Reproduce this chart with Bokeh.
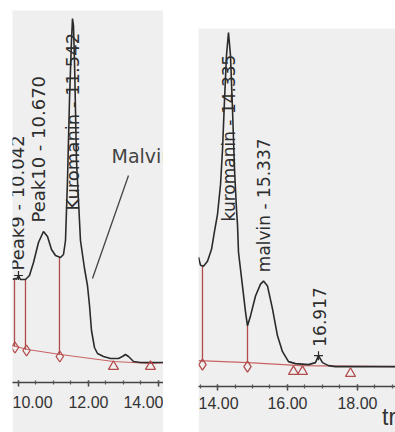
import numpy as np
from bokeh.plotting import figure
from bokeh.layouts import row, column
from bokeh.models import (Range1d, SingleIntervalTicker, PrintfTickFormatter,
                          Label, Spacer)
from bokeh.core.properties import value
from bokeh.embed import file_html
from bokeh.resources import INLINE

# ---------------- data: left chromatogram window ----------------
left_time = [9.829, 9.914, 9.943, 10.0, 10.057, 10.2, 10.314, 10.429, 10.571,
             10.714, 10.829, 10.943, 11.057, 11.2, 11.286, 11.343, 11.4, 11.457,
             11.514, 11.543, 11.571, 11.6, 11.629, 11.657, 11.714, 11.771, 11.886,
             11.971, 12.029, 12.086, 12.171, 12.257, 12.429, 12.629, 12.857, 12.971,
             13.057, 13.143, 13.286, 13.486, 14.143]
left_signal = [1.03, 1.04, 1.03, 1.07, 1.03, 1.03, 1.07, 1.20, 1.40,
               1.51, 1.46, 1.33, 1.27, 1.25, 1.28, 1.42, 2.02, 2.82,
               3.42, 3.64, 3.57, 3.22, 2.72, 2.22, 1.82, 1.42, 1.14,
               0.97, 0.77, 0.52, 0.35, 0.29, 0.26, 0.24, 0.24, 0.26,
               0.28, 0.26, 0.21, 0.20, 0.20]
left_base_time = [9.829, 10.257, 11.2, 12.714, 13.771, 14.143]
left_base_signal = [0.37, 0.33, 0.28, 0.21, 0.19, 0.20]
left_drop_time = [9.886, 10.2, 11.171]
left_drop_low = [0.36, 0.33, 0.28]
left_drop_high = [1.04, 1.03, 1.25]
left_start_time = [9.9, 10.23, 11.18]
left_start_signal = [0.35, 0.32, 0.26]
left_end_time = [12.714, 13.771]
left_end_signal = [0.16, 0.16]
left_apex_time = [10.0]
left_apex_signal = [1.07]
left_peak_names = ["Peak9 - 10.042", "Peak10 - 10.670", "Kuromanin - 11.542"]
left_peak_rt = [10.042, 10.670, 11.542]

# ---------------- data: right chromatogram window ----------------
right_time = [13.457, 13.514, 13.6, 13.714, 13.829, 13.914, 14.0, 14.086, 14.143,
              14.2, 14.257, 14.314, 14.371, 14.429, 14.486, 14.543, 14.571, 14.6,
              14.714, 14.8, 14.857, 14.943, 15.086, 15.229, 15.314, 15.429, 15.571,
              15.714, 15.857, 16.029, 16.229, 16.6, 16.8, 16.886, 17.0, 17.171,
              17.371, 19.086]
right_signal = [1.30, 1.22, 1.21, 1.26, 1.38, 1.56, 1.73, 2.03, 2.38,
                2.88, 3.33, 3.56, 3.33, 2.78, 2.18, 1.78, 1.63, 1.35,
                1.01, 0.75, 0.61, 0.71, 0.91, 1.03, 1.06, 1.01, 0.78,
                0.51, 0.35, 0.25, 0.23, 0.22, 0.24, 0.31, 0.24, 0.21,
                0.20, 0.20]
right_base_time = [13.457, 14.886, 16.371, 19.086]
right_base_signal = [0.26, 0.24, 0.21, 0.20]
right_drop_time = [13.571, 14.857]
right_drop_low = [0.25, 0.24]
right_drop_high = [1.21, 0.61]
right_start_time = [13.571, 14.857]
right_start_signal = [0.22, 0.20]
right_end_time = [16.171, 16.429, 17.8]
right_end_signal = [0.15, 0.15, 0.13]
right_apex_time = [16.886]
right_apex_signal = [0.31]
right_peak_names = ["kuromanin - 14.335", "malvin - 15.337", "16.917"]
right_peak_rt = [14.335, 15.337, 16.917]
axis_title = "tr"

GRAY = "#efefef"
CURVE = "#2b2b2b"
RED = "#b24c4c"
BASE = "#c86464"
TXT = "#2e2e2e"


def make_fig(xr, yr, w, h, bottom):
    p = figure(x_range=Range1d(*xr), y_range=Range1d(*yr), width=w, height=h,
               output_backend="svg", toolbar_location=None, y_axis_location=None,
               min_border_left=0, min_border_right=0, min_border_top=0,
               min_border_bottom=bottom, background_fill_color=GRAY,
               border_fill_color=GRAY, outline_line_color=None)
    p.xgrid.visible = False
    p.ygrid.visible = False
    ax = p.xaxis[0]
    ax.ticker = SingleIntervalTicker(interval=2, num_minor_ticks=4)
    ax.formatter = PrintfTickFormatter(format="%.2f")
    ax.axis_line_color = "#444444"
    ax.axis_line_width = 1.5
    ax.major_tick_line_color = "#444444"
    ax.major_tick_line_width = 1.5
    ax.major_tick_in = 2
    ax.major_tick_out = 4
    ax.minor_tick_line_color = "#555555"
    ax.minor_tick_line_width = 1.2
    ax.minor_tick_in = 2
    ax.minor_tick_out = 2
    ax.major_label_text_font = "Liberation Sans"
    ax.major_label_text_font_size = "16px"
    ax.major_label_text_color = "#333333"
    return p


def draw(p, t, s, bt, bs, dt, dlo, dhi, st, ss, et, es, at, asig):
    p.line(bt, bs, line_color=BASE, line_width=1.2)
    p.segment(x0=dt, y0=dlo, x1=dt, y1=dhi, line_color=RED, line_width=1.3)
    p.line(t, s, line_color=CURVE, line_width=1.6)
    p.scatter(at, asig, marker="cross", size=9, line_color=CURVE, line_width=1.2)
    p.scatter(st, ss, marker="diamond", size=11, fill_color=None,
              line_color=RED, line_width=1.3)
    p.scatter(et, es, marker="triangle", size=10, fill_color=None,
              line_color=RED, line_width=1.3)


# ---------------- left panel ----------------
p1 = make_fig((9.829, 14.143), (0, 3.72), 151, 422, 50)
p1.xaxis[0].major_label_standoff = 9
draw(p1, left_time, left_signal, left_base_time, left_base_signal,
     left_drop_time, left_drop_low, left_drop_high,
     left_start_time, left_start_signal, left_end_time, left_end_signal,
     left_apex_time, left_apex_signal)
p1.text(x=[left_peak_rt[0] - 0.06, left_peak_rt[1] - 0.1, left_peak_rt[2] - 0.01],
        y=[1.12, 1.60, 1.72], text=left_peak_names, angle=np.pi / 2,
        text_align="left", text_baseline="middle",
        text_font=value("DejaVu Sans"), text_font_size=value("18px"),
        text_color=TXT)
# Malvin callout
p1.segment(x0=[13.143], y0=[2.07], x1=[12.114], y1=[1.04],
           line_color="#444444", line_width=1.3)
p1.add_layout(Label(x=13.543, y=2.27, text="Malvin", text_align="center",
                    text_baseline="middle", text_font="DejaVu Sans",
                    text_font_size="19px", text_color="#444444"))

# ---------------- right panel ----------------
p2 = make_fig((13.457, 19.086), (0, 3.60), 197, 404, 44)
p2.xaxis[0].major_label_standoff = 6
draw(p2, right_time, right_signal, right_base_time, right_base_signal,
     right_drop_time, right_drop_low, right_drop_high,
     right_start_time, right_start_signal, right_end_time, right_end_signal,
     right_apex_time, right_apex_signal)
p2.text(x=right_peak_rt, y=[1.66, 1.15, 0.40], text=right_peak_names,
        angle=np.pi / 2, text_align="left", text_baseline="middle",
        text_font=value("DejaVu Sans"), text_font_size=value("17px"),
        text_color=TXT)

# the axis title is centred on the axis end, so pad it with non-breaking
# spaces to push the visible letters left of the panel edge
ax2 = p2.xaxis[0]
ax2.axis_label = axis_title + "\u00a0\u00a0"
ax2.axis_label_align = "end"
ax2.axis_label_standoff = -8
ax2.axis_label_text_font = "Liberation Sans"
ax2.axis_label_text_font_size = "23px"
ax2.axis_label_text_font_style = "normal"
ax2.axis_label_text_color = "#333333"

layout = row(Spacer(width=12, height=10),
             column(Spacer(width=10, height=10), p1),
             Spacer(width=35, height=10),
             column(Spacer(width=10, height=28), p2))

open("out.html", "w").write(file_html(layout, INLINE))
